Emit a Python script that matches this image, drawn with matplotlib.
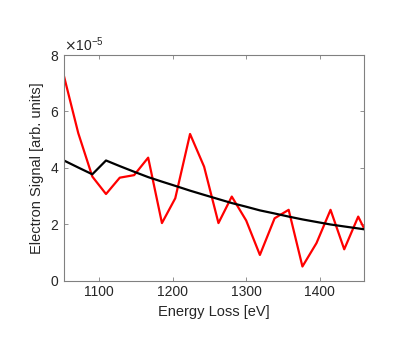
import matplotlib
matplotlib.use("Agg")
import matplotlib.pyplot as plt
from matplotlib.ticker import ScalarFormatter

energy = [1052.3, 1071.8, 1090.9, 1109.5, 1128.2, 1147.7, 1166.8, 1185.5, 1203.6,
          1223.7, 1242.8, 1262.3, 1280.4, 1300.0, 1318.6, 1338.6, 1357.7, 1376.4,
          1395.5, 1414.6, 1433.2, 1452.2, 1460.0]
signal = [7.26, 5.23, 3.69, 3.07, 3.65, 3.74, 4.36, 2.04, 2.92, 5.20, 4.04, 2.04,
          2.98, 2.13, 0.91, 2.21, 2.51, 0.50, 1.33, 2.51, 1.11, 2.27, 1.86]
fit = [4.26, 4.01, 3.77, 4.26, 4.06, 3.86, 3.67, 3.51, 3.36, 3.19, 3.04, 2.89,
       2.75, 2.62, 2.49, 2.38, 2.27, 2.17, 2.08, 1.99, 1.92, 1.85, 1.82]
scale = 1e-5
xticks = [1100, 1200, 1300, 1400]
yticks = [0, 2e-5, 4e-5, 6e-5, 8e-5]

plt.rcParams['font.family'] = ['Liberation Sans', 'DejaVu Sans']
fig = plt.figure(figsize=(4.15, 3.46), dpi=100)
ax = fig.add_axes([0.154, 0.189, 0.723, 0.652])

ax.plot(energy, [v * scale for v in signal], color=(1, 0, 0), lw=1.6)
ax.plot(energy, [v * scale for v in fit], color='black', lw=1.6)

ax.set_xlim(1052.3, 1460)
ax.set_ylim(0, 8e-5)
ax.set_xticks(xticks)
ax.set_yticks(yticks)
fmt = ScalarFormatter(useMathText=True)
fmt.set_powerlimits((0, 0))
ax.yaxis.set_major_formatter(fmt)

gray = (0.15, 0.15, 0.15)
for s in ax.spines.values():
    s.set_color((0.5, 0.5, 0.5))
    s.set_linewidth(0.8)
ax.tick_params(direction='in', top=True, right=True, length=3, width=0.6,
               colors=(0.5, 0.5, 0.5), labelcolor=gray, labelsize=10)
ax.yaxis.get_offset_text().set_fontsize(10)
ax.yaxis.get_offset_text().set_color(gray)

ax.set_xlabel('Energy Loss [eV]', fontsize=10.5, color=gray)
ax.set_ylabel('Electron Signal [arb. units]', fontsize=10.5, color=gray)

fig.savefig('out.png', dpi=100)
